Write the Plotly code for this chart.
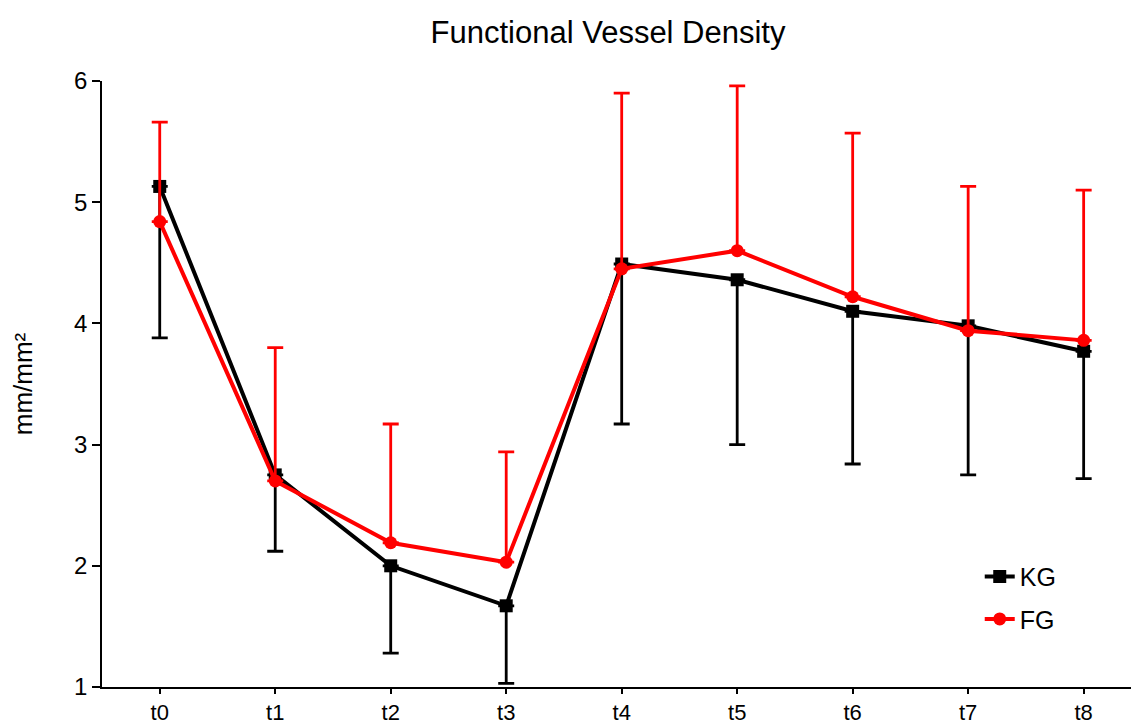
import plotly.graph_objects as go

# Time points and group means (mm/mm²)
timepoints = ["t0", "t1", "t2", "t3", "t4", "t5", "t6", "t7", "t8"]
kg_mean = [5.13, 2.75, 2.00, 1.67, 4.49, 4.36, 4.10, 3.98, 3.77]
fg_mean = [4.84, 2.70, 2.19, 2.03, 4.45, 4.60, 4.22, 3.94, 3.86]

# One-sided spread: KG drawn downward, FG drawn upward
kg_sd = [1.25, 0.63, 0.72, 0.64, 1.32, 1.36, 1.26, 1.23, 1.05]
fg_sd = [0.82, 1.10, 0.98, 0.91, 1.45, 1.36, 1.35, 1.19, 1.24]

idx = list(range(len(timepoints)))
zeros = [0] * len(timepoints)

FONT = "Arial, Liberation Sans, sans-serif"

fig = go.Figure()

fig.add_trace(go.Scatter(
    x=idx, y=kg_mean, name="KG", mode="lines+markers",
    line=dict(color="#000000", width=4),
    marker=dict(symbol="square", size=13, color="#000000"),
    error_y=dict(type="data", symmetric=False, array=zeros, arrayminus=kg_sd,
                 color="#000000", thickness=2.8, width=8),
    legendgroup="kg",
))
fig.add_trace(go.Scatter(
    x=idx, y=fg_mean, name="FG", mode="lines+markers",
    line=dict(color="#ff0000", width=4),
    marker=dict(symbol="circle", size=13, color="#ff0000"),
    error_y=dict(type="data", symmetric=False, array=fg_sd, arrayminus=zeros,
                 color="#ff0000", thickness=2.8, width=8),
    legendgroup="fg",
))

fig.update_layout(
    width=1131, height=727,
    margin=dict(l=102, r=0, t=81, b=40),
    paper_bgcolor="white", plot_bgcolor="white",
    font=dict(family=FONT, color="#000000", size=24),
    title=dict(text="Functional Vessel Density", x=0.5376, xref="container",
               xanchor="center", y=0.956, yref="container", yanchor="middle",
               font=dict(family=FONT, size=31, color="#000000")),
    showlegend=True,
    legend=dict(x=0.853, xanchor="left", y=0.22, yanchor="top",
                traceorder="grouped", tracegroupgap=7,
                font=dict(family=FONT, size=25, color="#000000"),
                bgcolor="rgba(0,0,0,0)"),
)

fig.update_xaxes(
    range=[-0.5, 8.41], tickmode="array", tickvals=idx, ticktext=timepoints,
    showline=True, linecolor="#000000", linewidth=1.5,
    ticks="outside", ticklen=5, tickwidth=1.5, tickcolor="#000000",
    showgrid=False, zeroline=False, automargin=False,
    tickfont=dict(family=FONT, size=22, color="#000000"),
)
fig.update_yaxes(
    range=[1, 6], tickvals=[1, 2, 3, 4, 5, 6],
    showline=True, linecolor="#000000", linewidth=1.5,
    ticks="outside", ticklen=8, tickwidth=1.5, tickcolor="#000000",
    showgrid=False, zeroline=False, automargin=False,
    tickfont=dict(family=FONT, size=24, color="#000000"),
    title=dict(text="mm/mm²", font=dict(family=FONT, size=26, color="#000000"),
               standoff=34),
)

fig.write_html("out.html")
